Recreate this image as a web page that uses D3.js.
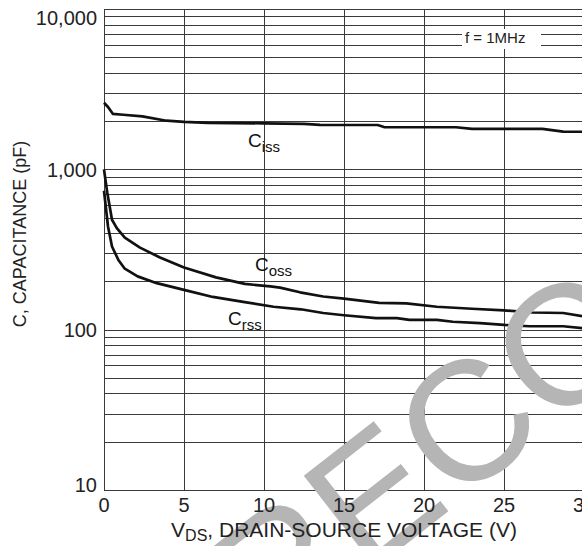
<!DOCTYPE html>
<html>
<head>
<meta charset="utf-8">
<script src="https://cdn.jsdelivr.net/npm/d3@7"></script>
<style>
  html, body { margin: 0; padding: 0; background: #fff; }
  svg { display: block; font-family: "Liberation Sans", Arial, Helvetica, sans-serif; }
</style>
</head>
<body>
<svg id="chart" width="582" height="546"></svg>
<script>
// capacitance vs drain-source voltage, f = 1MHz
const xTicks = [0, 5, 10, 15, 20, 25, 30];
const yTickValues = [10, 100, 1000, 10000];
const yTickLabels = ['10', '100', '1,000', '10,000'];

const cissV = [0, 0.25, 0.55, 1.2, 2.4, 3.9, 5, 6.5, 10, 12.5, 13.5, 17.1, 17.5, 22, 23, 27.4, 28.7, 30];
const cissC = [2600, 2450, 2220, 2190, 2140, 2010, 1975, 1950, 1935, 1920, 1895, 1890, 1835, 1830, 1790, 1790, 1720, 1715];

const cossV = [0, 0.2, 0.5, 0.8, 1.3, 2.25, 3.5, 5, 7, 8.8, 10.4, 11, 12.25, 13.7, 15, 17.2, 18.9, 20.8, 23, 25, 26.8, 28.7, 30];
const cossC = [1000, 720, 485, 430, 375, 325, 282, 244, 212, 193, 186, 183, 171, 161, 156, 147, 146, 139, 135, 132, 128, 127, 121];

const crssV = [0, 0.25, 0.5, 0.9, 1.3, 2.1, 3.3, 5, 6.8, 8.7, 10.6, 12.3, 13.7, 15, 17, 18.3, 19.1, 20.8, 21.8, 23.5, 25, 26.6, 28.7, 30];
const crssC = [735, 440, 330, 272, 240, 215, 195, 177, 160, 149, 139, 134, 127, 123, 118, 118, 115, 115, 112, 110, 107, 105, 105, 102];

const seriesNames = ['iss', 'oss', 'rss'];

const svg = d3.select('#chart');
const plotLeft = 104, plotRight = 584, plotTop = 9, plotBottom = 490;

const x = d3.scaleLinear().domain([0, 30]).range([plotLeft, plotRight]);
const y = d3.scaleLog().domain([10, 10000]).range([plotBottom, plotTop]);

const fontSize = 20;

// grid
const grid = svg.append('g')
  .attr('stroke', '#3a3a3a')
  .attr('stroke-width', 1)
  .attr('shape-rendering', 'crispEdges');

grid.selectAll('line.h')
  .data(y.ticks())
  .join('line')
  .attr('class', 'h')
  .attr('x1', plotLeft)
  .attr('x2', plotRight)
  .attr('y1', (d) => Math.round(y(d)) + 0.5)
  .attr('y2', (d) => Math.round(y(d)) + 0.5);

grid.selectAll('line.v')
  .data(xTicks)
  .join('line')
  .attr('class', 'v')
  .attr('y1', plotTop)
  .attr('y2', plotBottom)
  .attr('x1', (d) => Math.round(x(d)) + 0.5)
  .attr('x2', (d) => Math.round(x(d)) + 0.5);

// f = 1MHz box
svg.append('rect')
  .attr('x', 462)
  .attr('y', 29)
  .attr('width', 79)
  .attr('height', 20)
  .attr('fill', '#fff');

svg.append('text')
  .attr('x', 465)
  .attr('y', 43)
  .attr('font-size', 15)
  .attr('fill', '#222')
  .text('f = 1MHz');

// curves
const series = [
  { name: seriesNames[0], v: cissV, c: cissC },
  { name: seriesNames[1], v: cossV, c: cossC },
  { name: seriesNames[2], v: crssV, c: crssC }
];

const line = d3.line()
  .x((d) => x(d[0]))
  .y((d) => y(d[1]));

svg.append('g')
  .attr('fill', 'none')
  .attr('stroke', '#111')
  .attr('stroke-width', 2.7)
  .attr('stroke-linejoin', 'round')
  .selectAll('path')
  .data(series)
  .join('path')
  .attr('d', (s) => line(s.v.map((v, i) => [v, s.c[i]])));

// watermark
svg.append('text')
  .attr('transform', 'translate(268,652) rotate(-38)')
  .attr('font-size', 170)
  .attr('fill', '#b5b5b5')
  .text('RECOMMENDED');

// curve labels (position in data units)
const labelAt = [[9.0, 1377], [9.44, 232], [7.75, 107]];
const curveLabels = svg.append('g')
  .attr('font-size', 19)
  .attr('fill', '#111')
  .selectAll('text')
  .data(series)
  .join('text')
  .attr('x', (d, i) => x(labelAt[i][0]))
  .attr('y', (d, i) => y(labelAt[i][1]));
curveLabels.append('tspan').text('C');
curveLabels.append('tspan')
  .attr('font-size', 15)
  .attr('dy', 5)
  .text((d) => d.name);

// axis tick labels
svg.append('g')
  .attr('font-size', fontSize)
  .attr('fill', '#222')
  .attr('text-anchor', 'middle')
  .selectAll('text')
  .data(xTicks)
  .join('text')
  .attr('x', (d) => x(d))
  .attr('y', 512)
  .text((d) => d);

svg.append('g')
  .attr('font-size', fontSize)
  .attr('fill', '#222')
  .attr('text-anchor', 'end')
  .selectAll('text')
  .data(yTickValues)
  .join('text')
  .attr('x', 97)
  .attr('y', (d) => Math.min(Math.max(y(d), 18), 485))
  .attr('dy', '0.36em')
  .text((d, i) => yTickLabels[i]);

// axis titles
const xTitle = svg.append('text')
  .attr('x', (plotLeft + plotRight) / 2)
  .attr('y', 537)
  .attr('text-anchor', 'middle')
  .attr('font-size', 21)
  .attr('fill', '#222');
xTitle.append('tspan').text('V');
xTitle.append('tspan').attr('font-size', 16).attr('dy', 4).text('DS');
xTitle.append('tspan').attr('dy', -4).text(', DRAIN-SOURCE VOLTAGE (V)');

svg.append('text')
  .attr('transform', 'translate(26,234) rotate(-90)')
  .attr('text-anchor', 'middle')
  .attr('font-size', 18)
  .attr('fill', '#222')
  .text('C, CAPACITANCE (pF)');
</script>
</body>
</html>
